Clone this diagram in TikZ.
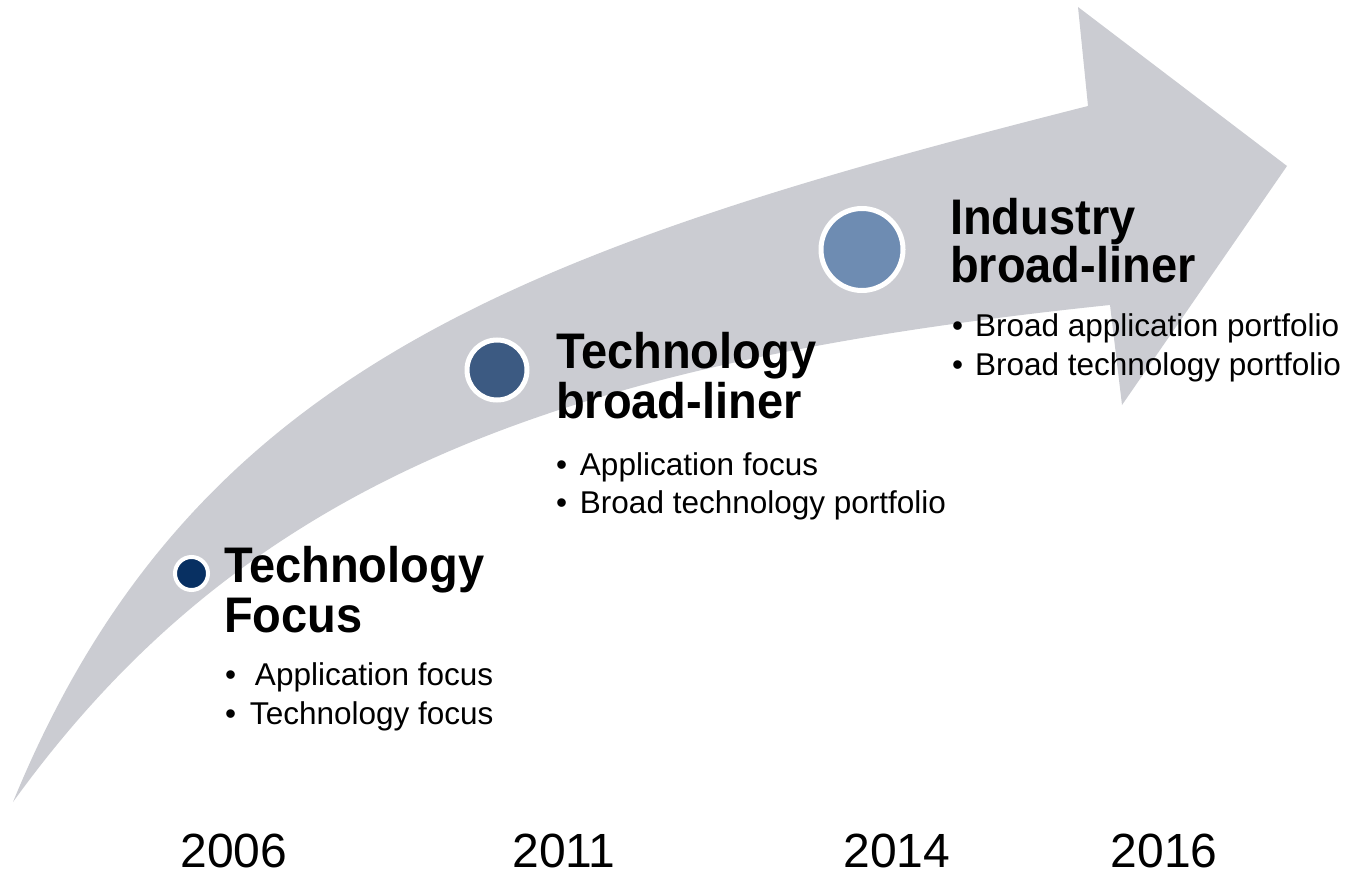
\documentclass[tikz,border=0pt]{standalone}
\usepackage{fontspec}
\setmainfont{Liberation Sans}
\newfontfamily\titlefont[FakeStretch=0.94]{Liberation Sans}
\definecolor{arrowgray}{RGB}{203,204,210}
\definecolor{navyA}{RGB}{8,48,98}
\definecolor{navyB}{RGB}{60,90,130}
\definecolor{navyC}{RGB}{110,140,178}
\begin{document}
\begin{tikzpicture}[x=1pt,y=-1pt,
  title/.style={inner sep=0pt,outer sep=0pt,anchor=base west,font=\titlefont\bfseries\fontsize{50}{60}\selectfont},
  item/.style={inner sep=0pt,outer sep=0pt,anchor=base west,font=\fontsize{31.5}{37}\selectfont},
  year/.style={inner sep=0pt,outer sep=0pt,anchor=base,font=\fontsize{48}{56}\selectfont},
  dot/.style={circle,draw=white,inner sep=0pt,outer sep=0pt}]
\useasboundingbox (0,0) rectangle (1351,874);
% curved arrow
\fill[arrowgray] (13,802) .. controls (190,370) and (520,250) .. (1088,106)
  -- (1078,7) -- (1287,166) -- (1122,405) -- (1110,305)
  .. controls (563,362) and (247,478) .. (13,802) -- cycle;
% milestones
\node[dot,fill=navyA,line width=4pt,minimum size=33pt] (c1) at (191.5,573.5) {};
\node[dot,fill=navyB,line width=5pt,minimum size=60pt] (c2) at (497,370) {};
\node[dot,fill=navyC,line width=5pt,minimum size=82pt] (c3) at (862,249.5) {};
% block 1
\node[title] (t1a) at (224,582) {Technology};
\node[title] (t1b) at (224,632) {Focus};
\node[item] (b1a) at (225,685) {\makebox[30pt][l]{•}Application focus};
\node[item] (b1b) at (225,724) {\makebox[25pt][l]{•}Technology focus};
% block 2
\node[title] (t2a) at (556,368) {Technology};
\node[title] (t2b) at (556,418) {broad-liner};
\node[item] (b2a) at (556,475) {\makebox[24pt][l]{•}Application focus};
\node[item] (b2b) at (556,513) {\makebox[24pt][l]{•}Broad technology portfolio};
% block 3
\node[title] (t3a) at (950,235) {Industry};
\node[title] (t3b) at (950,283) {broad-liner};
\node[item] (b3a) at (952,337) {\makebox[23pt][l]{•}Broad application portfolio};
\node[item] (b3b) at (952,375) {\makebox[23pt][l]{•}Broad technology portfolio};
% years
\node[year] (y1) at (234,867) {2006};
\node[year] (y2) at (564,867) {2011};
\node[year] (y3) at (897,867) {2014};
\node[year] (y4) at (1164,867) {2016};
\end{tikzpicture}
\end{document}
